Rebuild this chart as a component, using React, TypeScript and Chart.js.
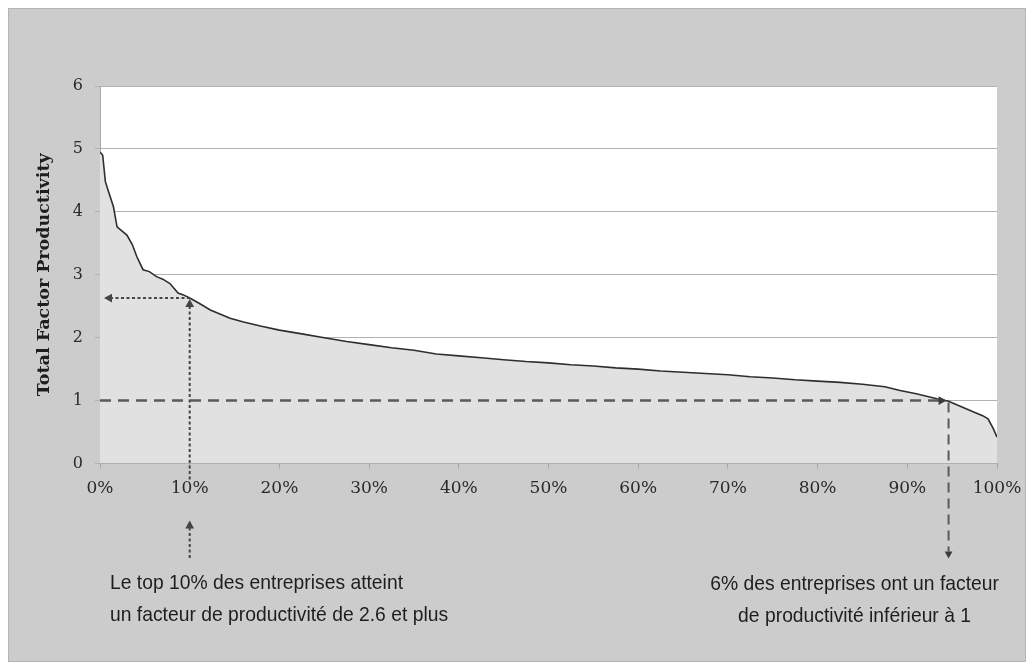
import React, { useEffect, useRef } from "react";
import { Chart, registerables } from "chart.js";
Chart.register(...registerables);

// Share of firms (percentile, %) and total factor productivity
const pct = [0, 0.3, 0.6, 1.0, 1.5, 1.9, 2.4, 3.0, 3.6, 4.1, 4.8, 5.5, 6.3, 7.0, 7.8, 8.7, 9.3, 10, 11, 12.3, 13.5, 14.5, 16, 18, 20, 22.5, 25, 27.5, 30, 32.5, 35, 37.5, 40, 42.5, 45, 47.5, 50, 52.5, 55, 57.5, 60, 62.5, 65, 67.5, 70, 72.5, 75, 77.5, 80, 82.5, 85, 87.5, 89.2, 91, 93.3, 94.6, 95.9, 97.4, 98.4, 99.0, 99.6, 100];
const tfp = [4.95, 4.9, 4.48, 4.3, 4.08, 3.76, 3.7, 3.63, 3.48, 3.29, 3.08, 3.05, 2.97, 2.93, 2.86, 2.71, 2.68, 2.63, 2.55, 2.44, 2.37, 2.31, 2.25, 2.18, 2.12, 2.06, 2.0, 1.94, 1.89, 1.84, 1.8, 1.74, 1.71, 1.68, 1.65, 1.62, 1.6, 1.57, 1.55, 1.52, 1.5, 1.47, 1.45, 1.43, 1.41, 1.38, 1.36, 1.33, 1.31, 1.29, 1.26, 1.22, 1.16, 1.11, 1.03, 0.99, 0.91, 0.82, 0.76, 0.71, 0.55, 0.42];

const xTickStep = 10;
const yTickStep = 1;
const yTitle = "Total Factor Productivity";

const topShare = 10;
const topValue = 2.63;
const lowShare = 94.6;
const lowValue = 1;

const noteLeft = ["Le top 10% des entreprises atteint", "un facteur de productivité de 2.6 et plus"];
const noteRight = ["6% des entreprises ont un facteur", "de productivité inférieur à 1"];

function arrowHead(ctx: CanvasRenderingContext2D, tx: number, ty: number, dir: string, size: number) {
  ctx.save();
  ctx.setLineDash([]);
  ctx.beginPath();
  const w = size * 0.55;
  if (dir === "left") { ctx.moveTo(tx, ty); ctx.lineTo(tx + size, ty - w); ctx.lineTo(tx + size, ty + w); }
  if (dir === "right") { ctx.moveTo(tx, ty); ctx.lineTo(tx - size, ty - w); ctx.lineTo(tx - size, ty + w); }
  if (dir === "up") { ctx.moveTo(tx, ty); ctx.lineTo(tx - w, ty + size); ctx.lineTo(tx + w, ty + size); }
  if (dir === "down") { ctx.moveTo(tx, ty); ctx.lineTo(tx - w, ty - size); ctx.lineTo(tx + w, ty - size); }
  ctx.closePath();
  ctx.fill();
  ctx.restore();
}

function seg(ctx: CanvasRenderingContext2D, x1: number, y1: number, x2: number, y2: number) {
  ctx.beginPath();
  ctx.moveTo(x1, y1);
  ctx.lineTo(x2, y2);
  ctx.stroke();
}

const annotPlugin = {
  id: "annot",
  beforeDraw(chart: any) {
    const { ctx, chartArea: a } = chart;
    ctx.save();
    ctx.fillStyle = "#ffffff";
    ctx.fillRect(a.left, a.top, a.right - a.left, a.bottom - a.top);
    ctx.restore();
  },
  afterDraw(chart: any) {
    const ctx: CanvasRenderingContext2D = chart.ctx;
    const xs = chart.scales.x;
    const ys = chart.scales.y;
    const bottom = ys.bottom;

    // top 10% dotted arrows
    const px = xs.getPixelForValue(topShare);
    const py = ys.getPixelForValue(topValue);
    ctx.save();
    ctx.strokeStyle = "#454545";
    ctx.fillStyle = "#454545";
    ctx.lineWidth = 2;
    ctx.setLineDash([3, 2.5]);
    seg(ctx, xs.left + 10, py, px, py);
    arrowHead(ctx, xs.left + 4, py, "left", 8);
    seg(ctx, px, py + 8, px, bottom + 18);
    arrowHead(ctx, px, py + 1, "up", 8);
    seg(ctx, px, bottom + 64, px, bottom + 97);
    arrowHead(ctx, px, bottom + 57, "up", 8);
    ctx.restore();

    // below-1 dashed arrows
    const lx = xs.getPixelForValue(lowShare);
    const ly = ys.getPixelForValue(lowValue);
    ctx.save();
    ctx.strokeStyle = "#5a5a5a";
    ctx.fillStyle = "#3a3a3a";
    ctx.lineWidth = 2.5;
    ctx.setLineDash([11, 7]);
    seg(ctx, xs.left, ly, lx - 8, ly);
    arrowHead(ctx, lx - 2, ly, "right", 8);
    ctx.lineWidth = 2;
    ctx.setLineDash([10, 6]);
    seg(ctx, lx, ly + 2, lx, bottom + 88);
    arrowHead(ctx, lx, bottom + 95, "down", 7);
    ctx.restore();

    // notes
    ctx.save();
    ctx.fillStyle = "#1e1e1e";
    ctx.font = "21px 'Liberation Sans Narrow', 'Liberation Sans', sans-serif";
    ctx.textBaseline = "alphabetic";
    const sx = Math.min(1, 293 / ctx.measureText(noteLeft[0]).width);
    const drawLine = (t: string, x: number, y: number, center: boolean) => {
      ctx.save();
      ctx.translate(x, y);
      ctx.scale(sx, 1);
      ctx.textAlign = center ? "center" : "left";
      ctx.fillText(t, 0, 0);
      ctx.restore();
    };
    drawLine(noteLeft[0], xs.left + 10, bottom + 125, false);
    drawLine(noteLeft[1], xs.left + 10, bottom + 157, false);
    drawLine(noteRight[0], lx - 94, bottom + 126, true);
    drawLine(noteRight[1], lx - 94, bottom + 158, true);
    ctx.restore();
  },
};

export default function App() {
  const ref = useRef<HTMLCanvasElement>(null);
  useEffect(() => {
    if (!ref.current) return;
    const points = pct.map((p, i) => ({ x: p, y: tfp[i] }));
    const chart = new Chart(ref.current, {
      type: "line",
      data: {
        datasets: [
          {
            data: points,
            borderColor: "#2e2e2e",
            borderWidth: 1.6,
            backgroundColor: "#e1e1e1",
            fill: "origin",
            pointRadius: 0,
            tension: 0,
          },
        ],
      },
      options: {
        animation: false,
        responsive: true,
        maintainAspectRatio: false,
        layout: { padding: { top: 77, right: 28, left: 0, bottom: 0 } },
        plugins: { legend: { display: false }, tooltip: { enabled: false } },
        scales: {
          x: {
            type: "linear",
            min: 0,
            max: 100,
            afterFit: (s: any) => { s.height = 197.5; s.paddingLeft = 0; s.paddingRight = 0; },
            ticks: {
              stepSize: xTickStep,
              callback: (v: any) => v + "%",
              font: { family: "'DejaVu Serif', serif", size: 17 },
              color: "#2a2a2a",
              padding: 10,
              maxRotation: 0,
            },
            grid: { drawOnChartArea: false, tickLength: 5, color: "#a8a8a8" },
            border: { color: "#a8a8a8" },
          },
          y: {
            min: 0,
            max: 6,
            afterFit: (s: any) => { s.width = 91; },
            ticks: {
              stepSize: yTickStep,
              font: { family: "'DejaVu Serif', serif", size: 16 },
              color: "#2a2a2a",
              padding: 12,
            },
            grid: { color: "#b2b2b2", tickLength: 5 },
            border: { color: "#a8a8a8" },
            title: {
              display: true,
              text: yTitle,
              font: { family: "'DejaVu Serif', serif", size: 17.5, weight: "bold" },
              color: "#1e1e1e",
              padding: { top: 25, bottom: 0 },
            },
          },
        },
      },
      plugins: [annotPlugin],
    });
    return () => chart.destroy();
  }, []);

  return (
    <div
      style={{
        position: "relative",
        width: 1016,
        height: 652,
        border: "1px solid #b5b5b5",
        background: "#cccccc",
      }}
    >
      <canvas ref={ref} />
    </div>
  );
}
